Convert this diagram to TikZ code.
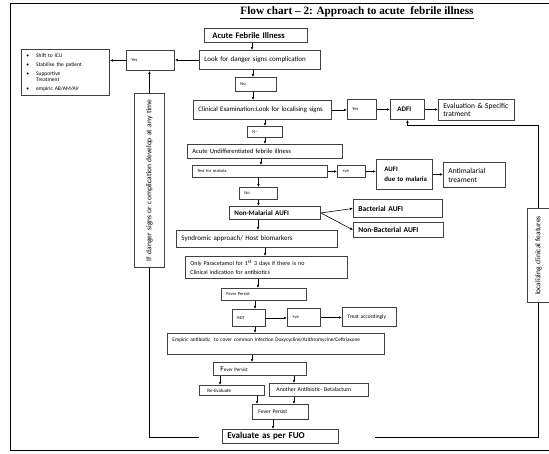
\documentclass[tikz,border=0pt]{standalone}
\usepackage{fontspec}
\setmainfont{Carlito}
\newfontfamily\titlefont{Liberation Serif}
\usepackage{graphicx}
\usetikzlibrary{arrows.meta,positioning}

\begin{document}
\begin{tikzpicture}[x=1pt,y=-1pt]

\tikzset{box/.style 2 args={draw=black!75, line width=0.9pt, anchor=north west,
    minimum width=#1pt, minimum height=#2pt, text width=#1pt-10pt,
    inner xsep=5pt, inner ysep=0pt, align=left},
  fs/.style 2 args={font=\fontsize{#1}{#2}\selectfont},
  arr/.style={-{Latex[length=3pt,width=2.6pt]}, line width=0.6pt},
  link/.style={line width=0.6pt}}

\useasboundingbox (0,0) rectangle (549,453);
\fill[white] (0,0) rectangle (549,453);
\draw[line width=1pt] (552,3.5) -- (10.5,3.5) -- (10.5,450) -- (552,450);

\node[font=\titlefont\bfseries\fontsize{11.2}{12}\selectfont] (title) at (357,13)
  {\underline{Flow chart – 2: Approach to acute\ \ febrile illness}};

% top part
\node[box={103}{14}, fs={8.5}{10}] (afi) at (204,28) {\hspace{3pt}\textbf{Acute Febrile Illness}};
\node[box={121}{19}, fs={7}{8}, inner xsep=4pt] (look) at (199,50) {Look for danger signs complication};
\node[box={48}{20}, fs={4.5}{5}] (yesl) at (126,50) {Yes};
\node[box={88}{46}, fs={5.5}{6.5}] (bul) at (21,49)
  {\textbullet\hspace{7pt}Shift to ICU\\[3pt]
   \textbullet\hspace{7pt}Stabilise the patient\\[2pt]
   \textbullet\hspace{7pt}Supportive\\
   \phantom{\textbullet}\hspace{7pt}Treatment\\[2pt]
   \textbullet\hspace{7pt}empiric AB/AM/AV};
\node[box={41}{14}, fs={4.5}{5}] (no1) at (235,77) {No};
\node[box={138}{19}, fs={6.8}{8}, inner xsep=3pt] (clin) at (193,100) {Clinical Examination:Look for localising signs};
\node[box={29}{20}, fs={4.5}{5}] (yesr) at (347,99) {Yes};
\node[box={34}{20}, fs={7}{8}] (adfi) at (390,99) {\hspace{2pt}\textbf{ADFI}};
\node[box={76}{21}, fs={7.5}{8.5}] (evs) at (438,99) {Evaluation \& Specific\\ tratment};

% malaria branch
\node[box={35}{11}, fs={4.5}{5}] (nm) at (247,126) {N–};
\node[box={155}{14}, fs={6.5}{7.5}] (aud) at (187,144) {Acute Undifferentiated febrile illness};
\node[box={135}{12}, fs={4.5}{5}, inner xsep=3pt] (test) at (192,165) {Test for malaria};
\node[box={28}{12}, fs={4.5}{5}] (pos1) at (337,165) {+ve};
\node[box={56}{30}, fs={6.8}{10}, inner xsep=3pt] (aufim) at (376,159) {\hspace{3pt}\textbf{AUFI}\\ \hspace{3pt}\textbf{due to malaria}};
\node[box={62}{25}, fs={7.5}{9}] (anti) at (443,162) {Antimalarial\\ treament};
\node[box={38}{12}, fs={4.5}{5}] (no2) at (239,187) {No};
\node[box={91}{13}, fs={7}{8}] (nmal) at (229,206) {\textbf{Non-Malarial AUFI}};
\node[box={89}{18}, fs={7.5}{8}] (bac) at (353,199) {\textbf{Bacterial AUFI}};
\node[box={90}{15}, fs={7.5}{8}] (nbac) at (353,222) {\textbf{Non-Bacterial AUFI}};

% lower part
\node[box={161}{17}, fs={7}{8}] (syn) at (176,230) {Syndromic approach/ Host biomarkers};
\node[box={162}{22}, fs={6}{9}] (para) at (185,256)
  {Only Paracetamol for 1\textsuperscript{st} 3 days if there is no\\ Clinical indication for antibiotics};
\node[box={85}{12}, fs={4.5}{5}] (fev1) at (221,288) {Fever Persist};
\node[box={33}{17}, fs={4.5}{5}] (rdt) at (232,309) {RDT};
\node[box={33}{18}, fs={4.5}{5}] (pos2) at (287,308) {+ve};
\node[box={54}{19}, fs={5.5}{6}] (treat) at (342,307) {Treat accordingly};
\node[box={217}{21}, fs={5.3}{8}] (emp) at (167,333)
  {Empiric antibiotic\ \ to cover common Infection Doxycycline/Azithromycine/Ceftriaxone\\ ~};
\node[box={89}{13}, fs={5}{6}, inner xsep=7pt] (fev2) at (213,362) {{\fontsize{7.5}{8}\selectfont F}ever Persist};
\node[box={59}{10}, fs={5}{6}, inner xsep=8pt] (reev) at (199,385) {Re-Evaluate};
\node[box={95}{13}, fs={5.8}{6.5}, inner xsep=7pt] (anot) at (269,383) {Another Antibiotic- Betalactum};
\node[box={54}{15}, fs={5.5}{6}, inner xsep=6pt] (fev3) at (252,404) {Fever Persist};
\node[box={116}{14}, fs={9}{10}] (fuo) at (222,429) {\textbf{Evaluate as per FUO}};

% side boxes
\node[box={30}{174}, align=center, fs={7.5}{9}] (dang) at (134,93)
  {\rotatebox{90}{If danger signs or complication develop at any time}};
\node[box={22}{94}, align=center, fs={7.5}{8}] (loc) at (527,208)
  {\rotatebox{90}{localizing clinical features}};

% connectors
\draw[arr] (afi.south -| 252,0) -- (look.north -| 252,0);
\draw[arr] (look.west) -- (look.west -| yesl.east);
\draw[arr] (yesl.west) -- (yesl.west -| bul.east);
\draw[arr] (dang.north) -- (dang.north |- yesl.south);
\draw[arr] (look.south -| 253,0) -- (no1.north -| 253,0);
\draw[arr] (no1.south -| 253,0) -- (clin.north -| 253,0);
\draw[arr] (clin.east) -- (clin.east -| yesr.west);
\draw[arr] (yesr.east) -- (yesr.east -| adfi.west);
\draw[arr] (adfi.east) -- (adfi.east -| evs.west);
\draw[arr] (clin.south -| nm.north) -- (nm.north);
\draw[arr] (nm.south) -- (nm.south |- aud.north);
\draw[arr] (aud.south -| 261,0) -- (test.north -| 261,0);
\draw[arr] (test.east) -- (test.east -| pos1.west);
\draw[arr] (pos1.east) -- (pos1.east -| aufim.west);
\draw[arr] (aufim.east) -- (aufim.east -| anti.west);
\draw[arr] (test.south -| no2.north) -- (no2.north);
\draw[arr] (no2.south) -- (no2.south |- nmal.north);
\draw[arr] (nmal.east) -- (bac.west);
\draw[arr] (nmal.east) -- (nbac.west);
\draw[arr] (nmal.south -| 258,0) -- (syn.north -| 258,0);
\draw[arr] (syn.south -| 265,0) -- (para.north -| 265,0);
\draw[arr] (para.south -| 258,0) -- (fev1.north -| 258,0);
\draw[arr] (fev1.south -| 255,0) -- (rdt.north -| 255,0);
\draw[arr] (rdt.east) -- (rdt.east -| pos2.west);
\draw[arr] (pos2.east) -- (pos2.east -| treat.west);
\draw[arr] (rdt.south -| 255,0) -- (emp.north -| 255,0);
\draw[arr] (emp.south -| 252,0) -- (fev2.north -| 252,0);
\draw[arr] (fev2.south -| 220,0) -- (reev.north -| 220,0);
\draw[arr] (fev2.south -| 294,0) -- (anot.north -| 294,0);
\draw[arr] (reev.south -| 257,0) -- (fev3.north -| 257,0);
\draw[arr] (anot.south -| 294,0) -- (fev3.north -| 294,0);
\draw[arr] (fev3.south -| 273,0) -- (fuo.north -| 273,0);

% loop lines
\coordinate (lend) at (199,437);
\draw[link] (dang.south) |- (lend);
\coordinate (rend) at (375,437);
\draw[link] (loc.south) |- (rend);
\draw[arr] (loc.north) |- (adfi.south |- 0,125) -- (adfi.south);

\end{tikzpicture}
\end{document}
